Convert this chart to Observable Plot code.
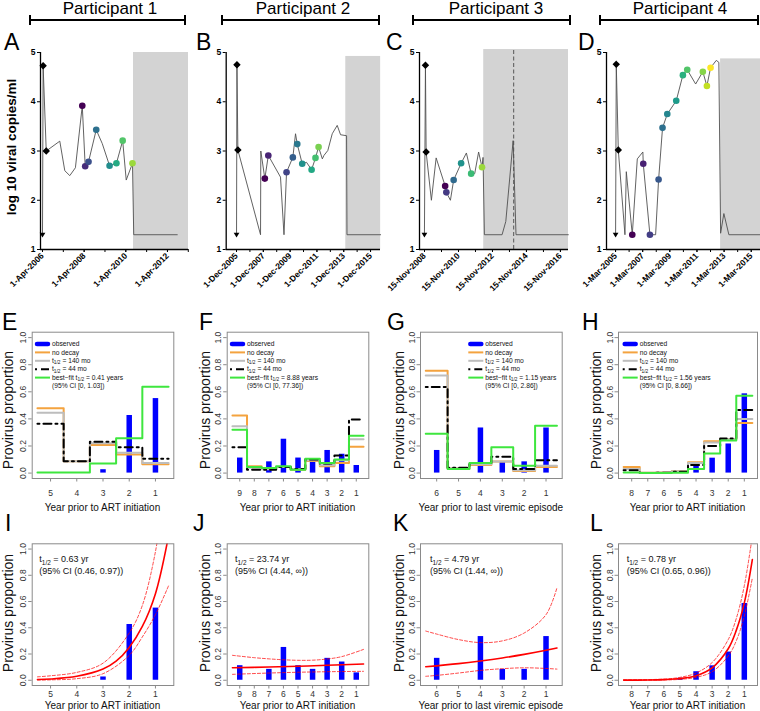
<!DOCTYPE html>
<html><head><meta charset="utf-8">
<script src="https://cdn.jsdelivr.net/npm/d3@7"></script>
<script src="https://cdn.jsdelivr.net/npm/@observablehq/plot@0.6"></script>
<style>
body{margin:0;background:#fff;}
#root{position:relative;width:760px;height:711px;overflow:hidden;font-family:"Liberation Sans",Arial,sans-serif;background:#fff;}
.pane{position:absolute;}
.pane svg{overflow:visible;}
</style></head><body><div id="root"></div>
<script>
// ================= DATA =================
// ---- Row 1: viral load (decimal years, log10 copies/ml) ----
const tA = [2006.25,2006.28,2006.43,2007.08,2007.32,2007.56,2007.83,2008.16,2008.30,2008.46,2008.83,2009.12,2009.47,2009.80,2010.10,2010.27,2010.57,2010.63,2012.72];
const vA = [1.3,4.73,3.0,3.2,2.6,2.5,2.66,3.92,2.69,2.78,3.43,3.15,2.70,2.75,3.21,2.41,2.75,1.3,1.3];
const dotTA = [2008.16,2008.30,2008.46,2008.83,2009.47,2009.80,2010.10,2010.57];
const dotVA = [3.92,2.69,2.78,3.43,2.70,2.75,3.21,2.75];

const tB = [2005.92,2005.95,2006.02,2007.71,2007.73,2008.03,2008.29,2009.20,2009.46,2009.65,2010.12,2010.32,2010.45,2010.82,2011.14,2011.52,2011.81,2012.04,2012.32,2012.44,2012.73,2013.06,2013.43,2013.68,2014.13,2014.16,2016.67];
const vB = [1.3,4.75,3.02,1.3,3.0,2.44,2.91,2.47,1.3,2.57,2.87,3.35,3.14,2.74,2.77,2.62,2.86,3.08,2.84,2.91,3.01,3.35,3.52,3.33,3.31,1.3,1.3];
const dotTB = [2008.03,2008.29,2009.65,2010.12,2010.45,2010.82,2011.52,2011.81,2012.04];
const dotVB = [2.44,2.91,2.57,2.87,3.14,2.74,2.62,2.86,3.08];

const tC = [2008.87,2008.93,2008.97,2009.28,2009.56,2010.09,2010.16,2010.40,2010.59,2011.03,2011.34,2011.62,2011.83,2012.06,2012.26,2012.32,2012.40,2013.44,2013.66,2014.09,2014.26,2017.34];
const vC = [1.3,4.74,2.98,2.0,2.86,2.29,2.16,2.0,2.41,2.75,2.96,2.54,2.54,2.98,2.67,2.87,1.3,1.3,1.57,3.21,1.3,1.3];
const dotTC = [2010.09,2010.16,2010.59,2011.03,2011.62,2012.26];
const dotVC = [2.29,2.16,2.41,2.75,2.54,2.67];

const tD = [2005.17,2005.22,2005.37,2005.86,2005.96,2006.40,2006.77,2007.18,2007.21,2007.70,2008.12,2008.34,2008.63,2008.98,2009.64,2010.13,2010.45,2011.07,2011.60,2011.90,2012.17,2012.59,2012.78,2012.91,2013.15,2013.52,2015.85];
const vD = [1.3,4.76,3.02,1.3,2.58,1.3,2.84,2.98,2.74,1.3,1.3,2.42,3.47,3.75,4.02,4.54,4.65,4.36,4.61,4.32,4.69,4.84,4.80,1.33,1.73,1.3,1.3];
const dotTD = [2006.40,2007.21,2007.70,2008.34,2008.63,2008.98,2009.64,2010.13,2010.45,2011.60,2011.90,2012.17];
const dotVD = [1.3,2.74,1.3,2.42,3.47,3.75,4.02,4.54,4.65,4.61,4.32,4.69];

// start markers: diamonds (first measurements) and below-detection triangle
const diaT = [[2006.28,2006.43],[2005.95,2006.02],[2008.93,2008.97],[2005.22,2005.37]];
const diaV = [[4.73,3.0],[4.75,3.02],[4.74,2.98],[4.76,3.02]];
const triT = [2006.25,2005.92,2008.87,2005.17];
const triV = [1.3,1.3,1.3,1.3];
// shaded period [start, end] and its top
const shadeSpan = [[2010.62,2013.26],[2014.07,2016.67],[2012.36,2017.35],[2012.91,2015.85]];
const shadeTop = [5.0,4.92,5.06,4.87];
const dashedC = [2014.12];
// date tick labels
const tickT = [[2006.25,2008.25,2010.25,2012.25],[2005.917,2007.917,2009.917,2011.917,2013.917,2015.917],[2008.875,2010.875,2012.875,2014.875,2016.875],[2005.167,2007.167,2009.167,2011.167,2013.167,2015.167]];
const tickL = [["1-Apr-2006","1-Apr-2008","1-Apr-2010","1-Apr-2012"],["1-Dec-2005","1-Dec-2007","1-Dec-2009","1-Dec-2011","1-Dec-2013","1-Dec-2015"],["15-Nov-2008","15-Nov-2010","15-Nov-2012","15-Nov-2014","15-Nov-2016"],["1-Mar-2005","1-Mar-2007","1-Mar-2009","1-Mar-2011","1-Mar-2013","1-Mar-2015"]];
const xDomains = [[2006.154,2013.26],[2005.148,2016.66],[2008.58,2017.35],[2004.5,2015.85]];
const participants = ["Participant 1","Participant 2","Participant 3","Participant 4"];

// ---- Row 2: observed proportions and model step lines ----
const catsE = [5,4,3,2,1];
const obsE = [0,0,0.025,0.425,0.55];
const noDecayE = [0.478,0.088,0.208,0.138,0.065];
const t140E = [0.445,0.088,0.22,0.15,0.075];
const t44E = [0.365,0.088,0.232,0.19,0.105];
const bestE = [0.005,0.005,0.07,0.258,0.638];

const catsF = [9,8,7,6,5,4,3,2,1];
const obsF = [0.111,0,0.083,0.25,0.111,0.083,0.167,0.139,0.056];
const noDecayF = [0.425,0.05,0.03,0.045,0.025,0.09,0.05,0.075,0.195];
const t140F = [0.345,0.04,0.028,0.045,0.028,0.095,0.057,0.095,0.25];
const t44F = [0.19,0.025,0.025,0.045,0.03,0.1,0.07,0.13,0.395];
const bestF = [0.32,0.045,0.037,0.05,0.025,0.105,0.075,0.1,0.275];

const catsG = [6,5,4,3,2,1];
const obsG = [0.167,0,0.333,0.083,0.083,0.333];
const noDecayG = [0.755,0.035,0.06,0.085,0.015,0.045];
const t140G = [0.72,0.035,0.065,0.085,0.02,0.055];
const t44G = [0.635,0.04,0.075,0.12,0.03,0.095];
const bestG = [0.29,0.03,0.075,0.19,0.055,0.35];

const catsH = [8,7,6,5,4,3,2,1];
const obsH = [0,0,0,0.015,0.065,0.11,0.215,0.585];
const noDecayH = [0.045,0.002,0.005,0.015,0.08,0.235,0.25,0.37];
const t140H = [0.03,0.002,0.004,0.013,0.075,0.225,0.25,0.40];
const t44H = [0.02,0.001,0.003,0.01,0.06,0.2,0.255,0.465];
const bestH = [0.005,0,0.001,0.003,0.03,0.145,0.24,0.57];

const bestFit = ["0.41","8.88","1.15","1.56"];
const bestCI = ["[0, 1.03]","[0, 77.36]","[0, 2.86]","[0, 8.66]"];
const xTitles = ["Year prior to ART initiation","Year prior to ART initiation","Year prior to last viremic episode","Year prior to ART initiation"];

// ---- Row 3: exponential fits (category index, proportion) ----
const fitIx = [-0.5,0,1,2,2.5,3,3.5,4,4.5], fitIy = [0.006,0.01,0.03,0.085,0.145,0.25,0.41,0.66,1.1];
const upIx = [-0.5,0,1,2,3,3.5,4,4.2], upIy = [0.026,0.034,0.06,0.13,0.36,0.57,0.98,1.25];
const loIx = [-0.5,0,1,2,3,3.5,4,4.5], loIy = [0.001,0.003,0.012,0.05,0.19,0.33,0.5,0.72];
const fitJx = [-0.5,2,4,6,8.5], fitJy = [0.095,0.101,0.107,0.114,0.124];
const upJx = [-0.5,1,2,3,4,5,6,7,8.5], upJy = [0.19,0.172,0.163,0.156,0.152,0.153,0.162,0.18,0.235];
const loJx = [-0.5,2,4,6,8.5], loJy = [0.045,0.055,0.061,0.065,0.068];
const fitKx = [-0.5,1,2,3,4,5,5.5], fitKy = [0.103,0.127,0.147,0.17,0.197,0.228,0.246];
const upKx = [-0.5,0,1,2,3,4,5,5.5], upKy = [0.375,0.352,0.31,0.287,0.3,0.36,0.5,0.705];
const loKx = [-0.5,0,1,2,3,4,5,5.5], loKy = [0.03,0.037,0.055,0.075,0.088,0.095,0.09,0.085];
const fitLx = [-0.5,1,2,3,4,5,6,6.5,7,7.5], fitLy = [0.001,0.002,0.005,0.013,0.035,0.095,0.24,0.38,0.59,0.92];
const upLx = [-0.5,2,3,4,5,6,6.5,7,7.5], upLy = [0.002,0.009,0.022,0.055,0.135,0.31,0.47,0.72,1.1];
const loLx = [-0.5,2,3,4,5,6,6.5,7,7.5], loLy = [0,0.002,0.007,0.022,0.065,0.185,0.3,0.49,0.78];
const halfLife = ["0.63","23.74","4.79","0.78"];
const halfCI = ["(0.46, 0.97)","(4.44, ∞)","(1.44, ∞)","(0.65, 0.96)"];

// ================= LAYOUT / STYLE =================
const ORANGE="#f4a33f", GRAY="#bdbdbd", GREEN="#3ee63e", BLUE="#0000ff", RED="#ff0000";
const root = document.getElementById("root");
function place(node, box){
  const d = document.createElement("div"); d.className="pane";
  Object.assign(d.style,{left:box.l+"px",top:box.t+"px",width:box.w+"px",height:box.h+"px"});
  d.appendChild(node); root.appendChild(d);
}
function mg(box, fr){
  return {width:box.w,height:box.h,marginLeft:fr.x0-box.l,marginRight:box.l+box.w-fr.x1,marginTop:fr.y0-box.t,marginBottom:box.t+box.h-fr.y1};
}
const colL = [0,190,383,573], colW=[190,190,190,187];
const topFrames = [{x0:40,x1:188},{x0:225.7,x1:380},{x0:419,x1:568},{x0:606,x1:760}];
const botFrames = [{x0:31.7,x1:173.3},{x0:226.7,x1:368.3},{x0:420,x1:561.7},{x0:618,x1:757}];

const triDown = {draw(ctx,size){const r=Math.sqrt(size/Math.PI);ctx.moveTo(-r*1.1,-r*0.75);ctx.lineTo(r*1.1,-r*0.75);ctx.lineTo(0,r*1.1);ctx.closePath();}};

// ================= ROW 1 =================
const lines = [[tA,vA],[tB,vB],[tC,vC],[tD,vD]];
const dots = [[dotTA,dotVA],[dotTB,dotVB],[dotTC,dotVC],[dotTD,dotVD]];
const cmax = [0.85,0.8,0.85,1.0];
for(let p=0;p<4;p++){
  const box={l:colL[p],t:30,w:colW[p],h:275};
  const fr={...topFrames[p],y0:52,y1:249};
  const [lt,lv]=lines[p], [dt,dv]=dots[p];
  const lineData = lt.map((t,i)=>({t,v:lv[i]}));
  const n=dt.length;
  const dotData = dt.map((t,i)=>({t,v:dv[i],c:d3.interpolateViridis(i/(n-1)*cmax[p])}));
  const diaData = diaT[p].map((t,i)=>({t,v:diaV[p][i]}));
  const triData = [{t:triT[p],v:triV[p]}];
  const dom = xDomains[p];
  const minor=[]; for(let k=Math.ceil(dom[0]-tickT[p][0]); tickT[p][0]+k<=dom[1]+1e-6; k++) minor.push(tickT[p][0]+k);
  const lab = new Map(tickT[p].map((t,i)=>[t,tickL[p][i]]));
  const marks = [
    Plot.rect([{x1:shadeSpan[p][0],x2:shadeSpan[p][1],y1:1,y2:shadeTop[p]}],{x1:"x1",x2:"x2",y1:"y1",y2:"y2",fill:"#d3d3d3"}),
  ];
  if(p===2) marks.push(Plot.ruleX(dashedC,{y1:1,y2:shadeTop[p],stroke:"#6a6a6a",strokeWidth:1.2,strokeDasharray:"4,2.5"}));
  marks.push(
    Plot.line(lineData,{x:"t",y:"v",stroke:"#505050",strokeWidth:0.9}),
    Plot.dot(triData,{x:"t",y:"v",symbol:triDown,r:2.6,fill:"#000"}),
    Plot.dot(diaData,{x:"t",y:"v",symbol:"diamond2",r:2.4,fill:"#000",stroke:"#000"}),
    Plot.dot(dotData,{x:"t",y:"v",r:3.3,fill:"c"}),
    Plot.ruleY([1],{stroke:"#000",strokeWidth:1.3}),
    Plot.ruleX([dom[0]],{y1:1,y2:5,stroke:"#000",strokeWidth:1.3}),
    Plot.axisY({ticks:[1,2,3,4,5],tickSize:3,tickPadding:2,tickFormat:d=>String(d),fill:"#000"}),
    Plot.axisX({ticks:minor,tickSize:3,tickFormat:()=>""}),
    Plot.axisX({ticks:tickT[p],tickSize:3,tickPadding:2,tickRotate:-45,tickFormat:d=>lab.get(d),fill:"#000"})
  );
  const plot = Plot.plot({...mg(box,fr),x:{domain:dom},y:{domain:[1,5]},color:{type:"identity"},
    style:{background:"none",overflow:"visible",fontFamily:"Liberation Sans, Arial, sans-serif",fontSize:"8.5px",fontWeight:"bold",color:"#000"},
    marks});
  place(plot,box);
}

// ================= ROWS 2 & 3 =================
function rAxes(n,cats,padX){
  return [
    Plot.frame({stroke:"#8a8a8a"}),
    Plot.axisY({ticks:[0,0.2,0.4,0.6,0.8,1.0],tickFormat:".1f",tickRotate:-90,tickSize:3.5,tickPadding:2.5,stroke:"#8a8a8a"}),
    Plot.axisX({ticks:d3.range(n),tickFormat:i=>String(cats[i]),tickSize:3.5,tickPadding:padX,stroke:"#8a8a8a"})
  ];
}
const rStyle = {background:"none",overflow:"visible",fontFamily:"Liberation Sans, Arial, sans-serif",fontSize:"8.5px",color:"#333"};
const catsAll=[catsE,catsF,catsG,catsH], obsAll=[obsE,obsF,obsG,obsH];
const ndAll=[noDecayE,noDecayF,noDecayG,noDecayH], t140All=[t140E,t140F,t140G,t140H], t44All=[t44E,t44F,t44G,t44H], bestAll=[bestE,bestF,bestG,bestH];
const fits = [[fitIx,fitIy,upIx,upIy,loIx,loIy],[fitJx,fitJy,upJx,upJy,loJx,loJy],[fitKx,fitKy,upKx,upKy,loKx,loKy],[fitLx,fitLy,upLx,upLy,loLx,loLy]];

for(let p=0;p<4;p++){
  const cats=catsAll[p], n=cats.length, pad=0.04*n;
  const xdom=[-0.5-pad,n-0.5+pad];
  const bars = obsAll[p].map((v,i)=>({i,v}));
  const step = arr=>[...arr.map((v,i)=>({x:i-0.5,y:v})),{x:n-0.5,y:arr[n-1]}];
  // row 2
  {
    const box={l:colL[p],t:300,w:colW[p],h:215};
    const fr={...botFrames[p],y0:331.7,y1:478};
    const plot = Plot.plot({...mg(box,fr),x:{domain:xdom},y:{domain:[-0.04,1.04]},style:rStyle,marks:[
      Plot.ruleX(bars,{x:"i",y1:0,y2:"v",stroke:BLUE,strokeWidth:5.5}),
      Plot.line(step(ndAll[p]),{x:"x",y:"y",curve:"step-after",stroke:ORANGE,strokeWidth:2}),
      Plot.line(step(t140All[p]),{x:"x",y:"y",curve:"step-after",stroke:GRAY,strokeWidth:2}),
      Plot.line(step(t44All[p]),{x:"x",y:"y",curve:"step-after",stroke:"#000",strokeWidth:2,strokeDasharray:"2,4,8,4"}),
      Plot.line(step(bestAll[p]),{x:"x",y:"y",curve:"step-after",stroke:GREEN,strokeWidth:2}),
      ...rAxes(n,cats,7.5)
    ]});
    place(plot,box);
  }
  // row 3
  {
    const box={l:colL[p],t:515,w:colW[p],h:196};
    const fr={...botFrames[p],y0:543.3,y1:685};
    const [fx,fy,ux,uy,lx,ly]=fits[p];
    const fit=fx.map((x,i)=>({x,y:fy[i]})), up=ux.map((x,i)=>({x,y:uy[i]})), lo=lx.map((x,i)=>({x,y:ly[i]}));
    const plot = Plot.plot({...mg(box,fr),x:{domain:xdom},y:{domain:[-0.04,1.04]},style:rStyle,marks:[
      Plot.ruleX(bars,{x:"i",y1:0,y2:"v",stroke:BLUE,strokeWidth:5.5}),
      Plot.line(up,{x:"x",y:"y",curve:"catmull-rom",stroke:RED,strokeOpacity:0.8,strokeWidth:0.9,strokeDasharray:"3,2",clip:true}),
      Plot.line(lo,{x:"x",y:"y",curve:"catmull-rom",stroke:RED,strokeOpacity:0.8,strokeWidth:0.9,strokeDasharray:"3,2",clip:true}),
      Plot.line(fit,{x:"x",y:"y",curve:"catmull-rom",stroke:RED,strokeWidth:1.6,clip:true}),
      ...rAxes(n,cats,1.5)
    ]});
    place(plot,box);
  }
}

// ================= OVERLAY TEXT =================
const ov = d3.select(root).append("svg").attr("width",760).attr("height",711)
  .style("position","absolute").style("left","0").style("top","0").style("pointer-events","none")
  .attr("font-family","Liberation Sans, Arial, sans-serif");
function rich(x,y,parts,size,fill="#000",shift=0.28){
  const t=ov.append("text").attr("x",x).attr("y",y).attr("font-size",size).attr("fill",fill);
  let shifted=false;
  parts.forEach(([s,sub])=>{
    const ts=t.append("tspan").text(s);
    if(sub&&!shifted){ts.attr("font-size",size*0.72).attr("dy",size*shift);shifted=true;}
    else if(!sub&&shifted){ts.attr("dy",-size*shift);shifted=false;}
  });
  return t;
}
// participant headers
const hdrX=[110,303,496,680], brk=[[30,185],[222,379],[413,570],[600,758]];
participants.forEach((s,i)=>{
  ov.append("text").attr("x",hdrX[i]).attr("y",14).attr("text-anchor","middle").attr("font-size",17).text(s);
  ov.append("line").attr("x1",brk[i][0]).attr("x2",brk[i][1]).attr("y1",20).attr("y2",20).attr("stroke","#000").attr("stroke-width",2);
  [0,1].forEach(j=>ov.append("line").attr("x1",brk[i][j]).attr("x2",brk[i][j]).attr("y1",15).attr("y2",25).attr("stroke","#000").attr("stroke-width",2));
});
// panel letters
const letters=[["A",4,50],["B",196,50],["C",386,50],["D",578,50],["E",2,330],["F",199,330],["G",387,330],["H",582,330],["I",5,531],["J",193,531],["K",393,531],["L",590,531]];
letters.forEach(([s,x,y])=>ov.append("text").attr("x",x).attr("y",y).attr("font-size",23).text(s));
// y titles
ov.append("text").attr("transform","translate(16,147) rotate(-90)").attr("text-anchor","middle").attr("font-size",13.5).attr("font-weight","bold").text("log 10 viral copies/ml");
const yTitleX=[13,210,404,601];
yTitleX.forEach(x=>{
  ov.append("text").attr("transform",`translate(${x},410) rotate(-90)`).attr("text-anchor","middle").attr("font-size",14).attr("fill","#111").text("Provirus proportion");
  ov.append("text").attr("transform",`translate(${x},613) rotate(-90)`).attr("text-anchor","middle").attr("font-size",14).attr("fill","#111").text("Provirus proportion");
});
// x titles
botFrames.forEach((f,i)=>{
  const cx=(f.x0+f.x1)/2;
  ov.append("text").attr("x",cx).attr("y",511).attr("text-anchor","middle").attr("font-size",10).attr("fill","#111").text(xTitles[i]);
  ov.append("text").attr("x",cx).attr("y",709).attr("text-anchor","middle").attr("font-size",10).attr("fill","#111").text(xTitles[i]);
});
// legends (row 2)
const legX=[35,230,468.3,622.7];
legX.forEach((x,p)=>{
  const y0=344, dy=8.4, fs=6.7, tx=x+17;
  ov.append("line").attr("x1",x+2).attr("x2",x+13).attr("y1",y0).attr("y2",y0).attr("stroke",BLUE).attr("stroke-width",4.5).attr("stroke-linecap","round");
  const sty=[[ORANGE,null],[GRAY,null],["#000","2,4,8,4"],[GREEN,null]];
  sty.forEach(([c,da],k)=>{
    const l=ov.append("line").attr("x1",x).attr("x2",x+15).attr("y1",y0+dy*(k+1)).attr("y2",y0+dy*(k+1)).attr("stroke",c).attr("stroke-width",2);
    if(da) l.attr("stroke-dasharray",da);
  });
  const rows=[[["observed"]],[["no decay"]],[["t"],["1/2",1],[" = 140 mo"]],[["t"],["1/2",1],[" = 44 mo"]],[["best−fit t"],["1/2",1],[" = "+bestFit[p]+" years"]],[["(95% CI "+bestCI[p]+")"]]];
  rows.forEach((parts,k)=>rich(tx,y0+dy*k+2.2,parts,fs,"#111",0.18));
});
// fit annotations (row 3)
const annX=[39.3,235,430,626.7];
annX.forEach((x,p)=>{
  rich(x,562,[["t"],["1/2",1],[" = "+halfLife[p]+" yr"]],9,"#111");
  rich(x,574,[["(95% CI "+halfCI[p]+")"]],9,"#111");
});
</script></body></html>
